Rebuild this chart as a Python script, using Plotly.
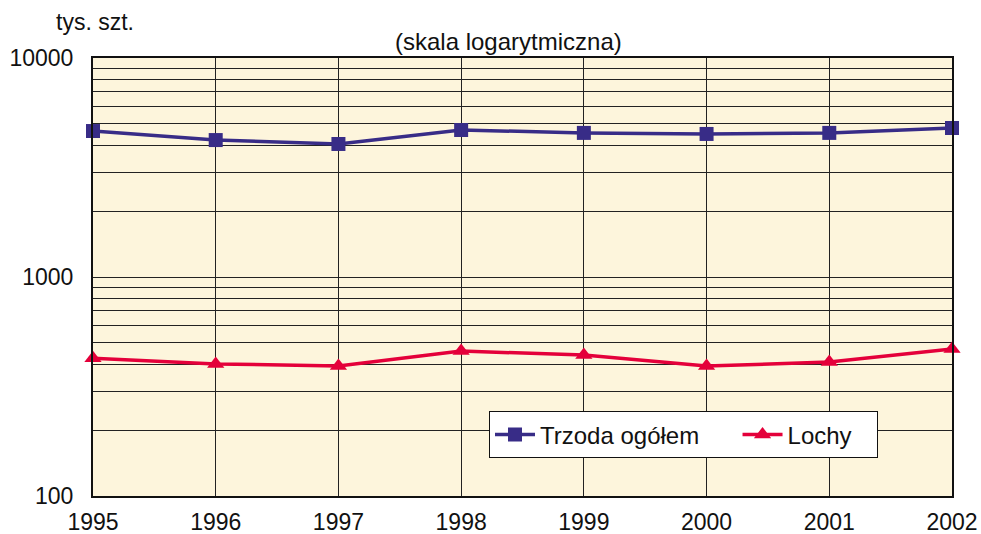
import plotly.graph_objects as go

years = [1995, 1996, 1997, 1998, 1999, 2000, 2001, 2002]
trzoda = [4640, 4220, 4050, 4690, 4550, 4500, 4550, 4790]
lochy = [426, 401, 392, 459, 440, 392, 409, 469]

grid_vals = [v * m for m in (100, 1000) for v in range(1, 10)] + [10000]
grid_text = ["100" if v == 100 else "1000" if v == 1000 else "10000" if v == 10000 else "" for v in grid_vals]

NBSP = "\u00a0"

fig = go.Figure()
fig.add_trace(
    go.Scatter(
        x=years,
        y=trzoda,
        name="Trzoda ogółem" + NBSP * 5,
        mode="lines+markers",
        line=dict(color="#382C87", width=3.5),
        marker=dict(symbol="square", size=14, color="#382C87"),
        cliponaxis=False,
    )
)
fig.add_trace(
    go.Scatter(
        x=years,
        y=lochy,
        name="Lochy" + NBSP * 3,
        mode="lines+markers",
        line=dict(color="#E4003A", width=3.5),
        marker=dict(symbol="triangle-up", size=15, color="#E4003A"),
        cliponaxis=False,
    )
)

fig.add_annotation(
    text="tys. szt.", xref="paper", yref="paper", x=0.002, y=1.082,
    xanchor="center", yanchor="middle", showarrow=False,
    font=dict(size=23, color="#111"),
)
fig.add_annotation(
    text="(skala logarytmiczna)", xref="paper", yref="paper", x=0.484, y=1.037,
    xanchor="center", yanchor="middle", showarrow=False,
    font=dict(size=24, color="#111"),
)

fig.update_layout(
    width=981,
    height=534,
    margin=dict(l=93, r=29, t=58, b=38),
    paper_bgcolor="white",
    plot_bgcolor="#FDF5DC",
    font=dict(family="Liberation Sans, Arial, sans-serif", size=23, color="#111"),
    showlegend=True,
    legend=dict(
        orientation="h",
        x=0.461, y=0.193, xanchor="left", yanchor="top",
        bgcolor="white", bordercolor="#111", borderwidth=1,
        font=dict(size=24),
        itemwidth=40,
    ),
)
fig.update_xaxes(
    range=[1995, 2002],
    tickvals=years,
    showgrid=True,
    gridcolor="#222",
    gridwidth=1,
    zeroline=False,
    showline=True,
    linecolor="#111",
    linewidth=2,
    mirror=True,
    ticks="",
    ticklabelstandoff=4,
    automargin=False,
)
fig.update_yaxes(
    type="log",
    range=[2, 4],
    tickvals=grid_vals,
    ticktext=grid_text,
    showgrid=True,
    gridcolor="#222",
    gridwidth=1,
    zeroline=False,
    showline=True,
    linecolor="#111",
    linewidth=2,
    mirror=True,
    ticks="",
    ticklabelstandoff=13,
    automargin=False,
)

fig.write_html(
    "out.html",
    config={"displayModeBar": False},
    post_script="document.body.style.margin='0';document.body.style.overflow='hidden';",
)
